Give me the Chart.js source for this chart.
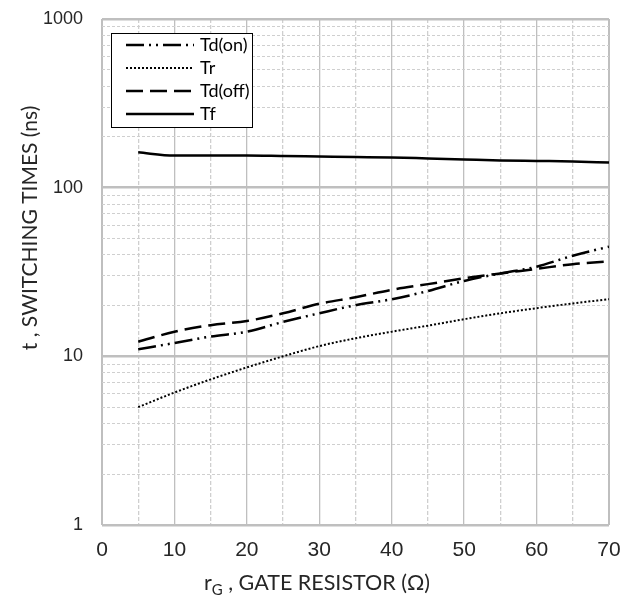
<!DOCTYPE html>
<html>
<head>
<meta charset="utf-8">
<script src="https://cdn.jsdelivr.net/npm/chart.js@4.4.1/dist/chart.umd.min.js"></script>
<style>
html,body{margin:0;padding:0;background:#fff;}
#wrap{width:629px;height:601px;position:relative;}
</style>
</head>
<body>
<div id="wrap"><canvas id="c"></canvas></div>
<script>
// ---- data ----
const rG = [5, 10, 15, 20, 25, 30, 35, 40, 45, 50, 55, 60, 65, 70];
const tdOn  = [11.0, 12.0, 13.1, 14.0, 16.0, 18.0, 20.1, 21.8, 24.4, 28.0, 31.0, 34.0, 39.5, 44.7];
const tr    = [5.0, 6.1, 7.3, 8.6, 10.0, 11.5, 12.8, 14.0, 15.2, 16.6, 18.0, 19.3, 20.6, 21.8];
const tdOff = [12.2, 14.0, 15.3, 16.2, 18.0, 20.5, 22.4, 24.8, 26.8, 29.0, 31.0, 33.0, 35.2, 36.5];
const tf    = [162, 155, 155, 155, 154, 153, 152, 151, 149, 147, 145, 144, 143, 141];
const seriesLabels = ['Td(on)', 'Tr', 'Td(off)', 'Tf'];
const yTickValues = [1,2,3,4,5,6,7,8,9,10,20,30,40,50,60,70,80,90,100,200,300,400,500,600,700,800,900,1000];
const yTickLabels = [1, 10, 100, 1000];
const xLabelValues = [0, 10, 20, 30, 40, 50, 60, 70];
const yTitle = 't , SWITCHING TIMES (ns)';
const xTitleMain = 'r';
const xTitleSub = 'G';
const xTitleRest = ' , GATE RESISTOR (\u03A9)';

const toPts = (ys) => rG.map((x, i) => ({x: x, y: ys[i]}));

const GRID_MAJOR = '#bfbfbf';
const GRID_MINOR = '#cfcfcf';
const TITLE_FONT = 'Lato, "Open Sans", sans-serif';

const datasets = [
  {label: seriesLabels[0], data: toPts(tdOn), borderColor:'#000', borderWidth:2.5, borderDash:[18,5,2,5,2,5]},
  {label: seriesLabels[1], data: toPts(tr), borderColor:'#000', borderWidth:2, borderDash:[2,2]},
  {label: seriesLabels[2], data: toPts(tdOff), borderColor:'#000', borderWidth:2.5, borderDash:[17,7]},
  {label: seriesLabels[3], data: toPts(tf), borderColor:'#000', borderWidth:2.5, borderDash:[]}
].map(d => Object.assign(d, {pointRadius:0, fill:false, cubicInterpolationMode:'monotone'}));

const zeroPad = (s) => { s.paddingTop = 0; s.paddingBottom = 0; s.paddingLeft = 0; s.paddingRight = 0; };

const extras = {
  id: 'extras',
  afterDraw(chart) {
    const ctx = chart.ctx;
    // legend box
    const bx = 111, by = 33, bw = 141, bh = 94;
    ctx.save();
    ctx.fillStyle = '#fff';
    ctx.fillRect(bx, by, bw, bh);
    ctx.strokeStyle = '#000';
    ctx.lineWidth = 1;
    ctx.strokeRect(bx + 0.5, by + 0.5, bw, bh);
    chart.data.datasets.forEach((ds, i) => {
      const y = 45 + i * 23;
      ctx.beginPath();
      ctx.setLineDash(ds.borderDash || []);
      ctx.lineWidth = ds.borderWidth;
      ctx.strokeStyle = ds.borderColor;
      ctx.moveTo(126, y);
      ctx.lineTo(194, y);
      ctx.stroke();
      ctx.setLineDash([]);
      ctx.fillStyle = '#000';
      ctx.font = '18px ' + TITLE_FONT;
      ctx.textBaseline = 'middle';
      ctx.textAlign = 'left';
      ctx.fillText(ds.label, 200, y);
    });
    // y title
    ctx.save();
    ctx.translate(30, 228);
    ctx.rotate(-Math.PI / 2);
    ctx.font = '21px ' + TITLE_FONT;
    ctx.fillStyle = '#262626';
    ctx.textAlign = 'center';
    ctx.textBaseline = 'middle';
    ctx.fillText(yTitle, 0, 0);
    ctx.restore();
    // x title with subscript
    ctx.font = '21.5px ' + TITLE_FONT;
    const wMain = ctx.measureText(xTitleMain).width;
    const wRest = ctx.measureText(xTitleRest).width;
    ctx.font = '15px ' + TITLE_FONT;
    const wSub = ctx.measureText(xTitleSub).width;
    let x = 317 - (wMain + wSub + wRest) / 2;
    const base = 590;
    ctx.fillStyle = '#262626';
    ctx.textAlign = 'left';
    ctx.textBaseline = 'alphabetic';
    ctx.font = '21.5px ' + TITLE_FONT;
    ctx.fillText(xTitleMain, x, base);
    x += wMain;
    ctx.font = '15px ' + TITLE_FONT;
    ctx.fillText(xTitleSub, x, base + 5);
    x += wSub;
    ctx.font = '21.5px ' + TITLE_FONT;
    ctx.fillText(xTitleRest, x, base);
    ctx.restore();
  }
};

new Chart(document.getElementById('c'), {
  type: 'line',
  data: {datasets},
  options: {
    responsive: true,
    maintainAspectRatio: false,
    animation: false,
    layout: {padding: {top: 19, right: 20, left: 0, bottom: 0}},
    plugins: {legend: {display: false}, tooltip: {enabled: false}},
    scales: {
      x: {
        type: 'linear', min: 0, max: 70,
        afterFit(s) { s.height = 76; zeroPad(s); },
        ticks: {
          stepSize: 5, padding: 13, color: '#262626',
          font: {family: '"Liberation Sans", Arial, sans-serif', size: 21},
          autoSkip: false, maxRotation: 0,
          callback: (v) => xLabelValues.includes(v) ? String(v) : ''
        },
        grid: {
          drawTicks: false,
          color: (c) => (c.tick && c.tick.value % 10 !== 0) ? GRID_MINOR : GRID_MAJOR,
          lineWidth: (c) => (c.tick && (c.tick.value === 0 || c.tick.value === 70)) ? 2 : 1.3
        },
        border: {
          display: false,
          dash: (c) => (c.tick && c.tick.value % 10 !== 0) ? [4, 2] : []
        }
      },
      y: {
        type: 'logarithmic', min: 1, max: 1000,
        afterFit(s) { s.width = 102; zeroPad(s); },
        afterBuildTicks(s) { s.ticks = yTickValues.map(v => ({value: v})); },
        ticks: {
          padding: 19, color: '#262626',
          font: {family: '"Liberation Sans", Arial, sans-serif', size: 18},
          autoSkip: false,
          callback: (v) => yTickLabels.includes(v) ? String(v) : ''
        },
        grid: {
          drawTicks: false,
          color: (c) => (c.tick && yTickLabels.includes(c.tick.value)) ? GRID_MAJOR : GRID_MINOR,
          lineWidth: (c) => (c.tick && yTickLabels.includes(c.tick.value)) ? 2.5 : 1
        },
        border: {
          display: false,
          dash: (c) => (c.tick && !yTickLabels.includes(c.tick.value)) ? [3, 2] : []
        }
      }
    }
  },
  plugins: [extras]
});
</script>
</body>
</html>
